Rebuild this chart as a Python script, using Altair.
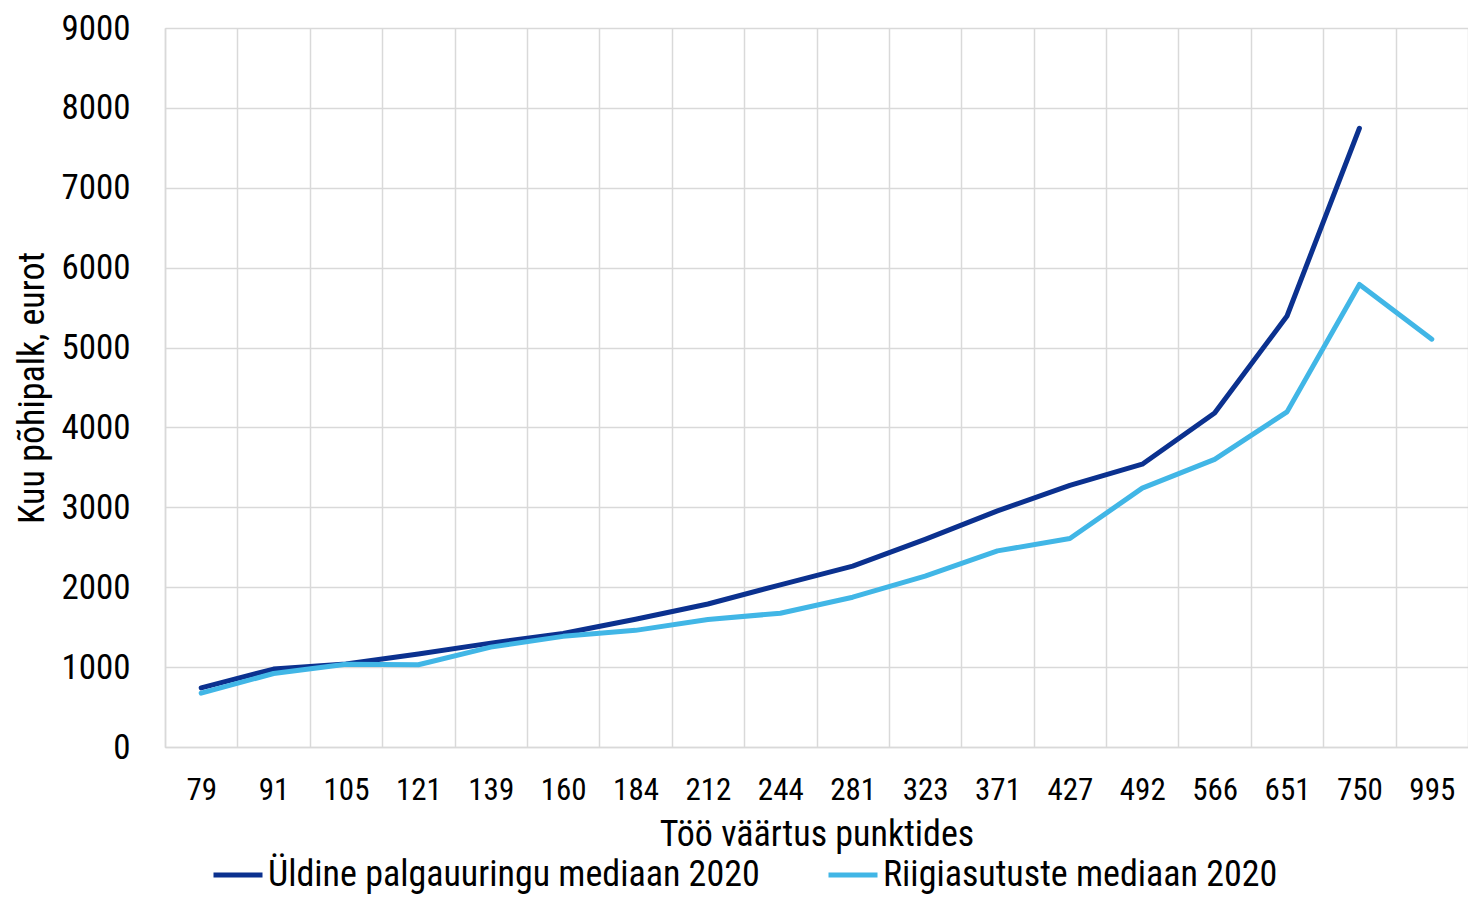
import altair as alt
import pandas as pd

categories = ["79", "91", "105", "121", "139", "160", "184", "212", "244",
              "281", "323", "371", "427", "492", "566", "651", "750", "995"]
uldine = [740, 975, 1040, 1165, 1300, 1420, 1600, 1790, 2030,
          2265, 2600, 2955, 3275, 3540, 4180, 5395, 7745, None]
riigi = [675, 920, 1035, 1030, 1250, 1385, 1460, 1595, 1675,
         1875, 2140, 2455, 2610, 3240, 3600, 4195, 5790, 5105]
series_names = ["Üldine palgauuringu mediaan 2020", "Riigiasutuste mediaan 2020"]
series_colors = ["#0B318F", "#41B6E6"]

rows = []
for name, vals in zip(series_names, [uldine, riigi]):
    for c, v in zip(categories, vals):
        if v is not None:
            rows.append({"punktid": c, "palk": v, "seeria": name})
df = pd.DataFrame(rows)

FONT = "Roboto Condensed, Liberation Sans Narrow, Roboto, sans-serif"
W, H = 1303, 719

chart = alt.Chart(df).mark_line(strokeWidth=5, strokeCap="round", strokeJoin="round").encode(
    x=alt.X("punktid:O", sort=categories, bandPosition=0.5,
            scale=alt.Scale(type="band", domain=categories, paddingInner=0, paddingOuter=0),
            axis=alt.Axis(title="Töö väärtus punktides", tickBand="extent", grid=True,
                          gridColor="#D9D9D9", gridWidth=1.5, ticks=False,
                          domainColor="#D9D9D9", domainWidth=1.5,
                          labelAngle=0, labelFontSize=31, labelFont=FONT, labelColor="#000000",
                          labelBaseline="middle", labelPadding=43,
                          titleFontSize=36, titleFont=FONT, titleFontWeight="normal",
                          titleColor="#000000", titleY=87, titleBaseline="middle")),
    y=alt.Y("palk:Q",
            scale=alt.Scale(domain=[0, 9000], nice=False),
            axis=alt.Axis(title="Kuu põhipalk, eurot", values=list(range(0, 9001, 1000)),
                          grid=True, gridColor="#D9D9D9", gridWidth=1.5, ticks=False,
                          domain=True, domainColor="#D9D9D9", domainWidth=1.5,
                          labelFontSize=35, labelFont=FONT, labelColor="#000000",
                          labelPadding=35, format="d",
                          titleFontSize=36, titleFont=FONT, titleFontWeight="normal",
                          titleColor="#000000", titleX=-133, titleY=H / 2,
                          titleAngle=-90, titleAlign="center", titleBaseline="middle")),
    color=alt.Color("seeria:N", sort=series_names,
                    scale=alt.Scale(domain=series_names, range=series_colors),
                    legend=alt.Legend(title=None, orient="none", legendX=46, legendY=820,
                                      direction="horizontal", symbolType="stroke",
                                      symbolStrokeWidth=5, symbolSize=2401,
                                      labelFontSize=36, labelFont=FONT, labelColor="#000000",
                                      labelLimit=1000, labelOffset=3, columnPadding=58,
                                      padding=0)),
).properties(
    width=W, height=H,
    padding={"left": 157, "top": 20, "right": 0, "bottom": 152},
    autosize=alt.AutoSizeParams(type="none"),
).configure_view(stroke=None).configure(background="white")

chart.save("out.html", embed_options={"renderer": "svg", "actions": False})
